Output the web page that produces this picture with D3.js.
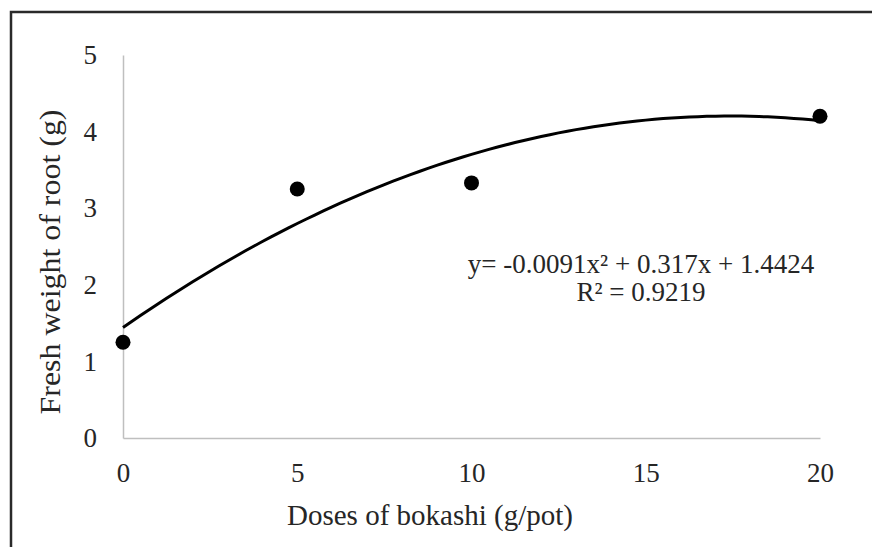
<!DOCTYPE html>
<html>
<head>
<meta charset="utf-8">
<script src="https://cdn.jsdelivr.net/npm/d3@7"></script>
<style>
  body { margin: 0; background: #fff; }
  text { font-family: "Liberation Serif", "Times New Roman", serif; fill: #262626; }
</style>
</head>
<body>
<div id="chart"></div>
<script>
// observed points
var doses = [0, 5, 10, 20];
var rootWeight = [1.25, 3.25, 3.33, 4.2];
// polynomial trendline (as printed on the chart): a*x^2 + b*x + c
var trendCoef = [-0.0091, 0.317, 1.4424];
var trendLabel = ["y= -0.0091x\u00b2 + 0.317x + 1.4424", "R\u00b2 = 0.9219"];
var xTicks = [0, 5, 10, 15, 20];
var yTicks = [0, 1, 2, 3, 4, 5];

var width = 872, height = 547;
var margin = {top: 55, right: 52, bottom: 109, left: 123};

var svg = d3.select("#chart").append("svg")
    .attr("width", width)
    .attr("height", height);

// outer frame
svg.append("rect")
    .attr("x", 11).attr("y", 12)
    .attr("width", width + 10).attr("height", height + 10)
    .attr("fill", "none")
    .attr("stroke", "#2a2a2a")
    .attr("stroke-width", 2.5);

var x = d3.scaleLinear().domain([0, 20]).range([margin.left, width - margin.right]);
var y = d3.scaleLinear().domain([0, 5]).range([height - margin.bottom, margin.top]);

// axes (no tick marks, grey lines)
var xAxis = svg.append("g")
    .attr("transform", "translate(0," + y(0) + ")")
    .call(d3.axisBottom(x).tickValues(xTicks).tickFormat(d3.format("d")).tickSize(0).tickPadding(25));
var yAxis = svg.append("g")
    .attr("transform", "translate(" + x(0) + ",0)")
    .call(d3.axisLeft(y).tickValues(yTicks).tickFormat(d3.format("d")).tickSize(0).tickPadding(26));

[xAxis, yAxis].forEach(function(a) {
  a.select(".domain").attr("stroke", "#bfbfbf").attr("stroke-width", 1.5);
  a.selectAll("text")
    .style("font-family", '"Liberation Serif", serif')
    .style("font-size", "27px")
    .attr("fill", "#262626");
});

// axis titles
svg.append("text")
    .attr("x", 287)
    .attr("y", 525)
    .style("font-size", "29px")
    .text("Doses of bokashi (g/pot)");

svg.append("text")
    .attr("transform", "translate(60,262) rotate(-90)")
    .attr("text-anchor", "middle")
    .style("font-size", "30px")
    .attr("textLength", 305)
    .attr("lengthAdjust", "spacingAndGlyphs")
    .text("Fresh weight of root (g)");

// trendline from printed coefficients
var trendX = d3.range(0, 20.01, 0.25);
var line = d3.line()
    .x(function(d) { return x(d); })
    .y(function(d) { return y(trendCoef[0] * d * d + trendCoef[1] * d + trendCoef[2]); });

svg.append("path")
    .datum(trendX)
    .attr("fill", "none")
    .attr("stroke", "#000")
    .attr("stroke-width", 3)
    .attr("d", line);

// points
svg.append("g").selectAll("circle")
    .data(doses)
    .enter().append("circle")
    .attr("cx", function(d) { return x(d); })
    .attr("cy", function(d, i) { return y(rootWeight[i]); })
    .attr("r", 7.5)
    .attr("fill", "#000");

// equation label
svg.append("g").selectAll("text")
    .data(trendLabel)
    .enter().append("text")
    .attr("x", 641)
    .attr("y", function(d, i) { return 273 + i * 28; })
    .attr("text-anchor", "middle")
    .style("font-size", "27px")
    .text(function(d) { return d; });
</script>
</body>
</html>
